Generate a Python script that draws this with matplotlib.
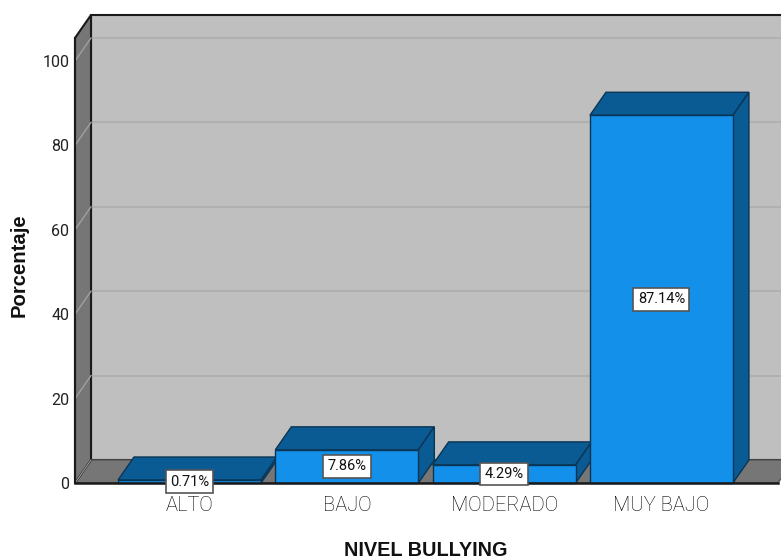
import matplotlib
matplotlib.use("Agg")
import matplotlib.pyplot as plt
from matplotlib.patches import Polygon

categories = ["ALTO", "BAJO", "MODERADO", "MUY BAJO"]
values = [0.71, 7.86, 4.29, 87.14]
labels = ["0.71%", "7.86%", "4.29%", "87.14%"]
yticks = [0, 20, 40, 60, 80, 100]

plt.rcParams['font.family'] = ['Liberation Sans', 'DejaVu Sans']
NARROW = ['Roboto', 'Liberation Sans']
W, H = 781, 560
fig = plt.figure(figsize=(W / 100, H / 100), dpi=100, facecolor='white')
ax = fig.add_axes([75 / W, (H - 483) / H, (778 - 75) / W, (483 - 38) / H])
ax.set_facecolor('none')
xmin, xmax, ymax = -0.728, 3.741, 105.45
ax.set_xlim(xmin, xmax)
ax.set_ylim(0, ymax)
dx, dy = 16 / 157.3, 23 / 4.22
bw = 143 / 157.3

FRONT, DARK, EDGE = '#1290EA', '#0A5A94', '#0B3554'
WALL, SIDE, GRID, FRAME = '#BFBFBF', '#767676', '#ADADAD', '#1A1A1A'

def poly(pts, fc, ec, lw=1.0, z=1):
    ax.add_patch(Polygon(pts, closed=True, facecolor=fc, edgecolor=ec, linewidth=lw,
                         zorder=z, clip_on=False, joinstyle='miter'))

poly([(xmin + dx, dy), (xmax + dx, dy), (xmax + dx, ymax + dy), (xmin + dx, ymax + dy)], WALL, FRAME, 1.5, 1)
poly([(xmin, 0), (xmax, 0), (xmax + dx, dy), (xmin + dx, dy)], SIDE, '#555555', 1.0, 2)
poly([(xmin, 0), (xmin, ymax), (xmin + dx, ymax + dy), (xmin + dx, dy)], SIDE, FRAME, 1.5, 2)

for t in yticks[1:]:
    ax.plot([xmin + dx, xmax + dx], [t + dy, t + dy], color=GRID, lw=1.2, zorder=1.5, clip_on=False)
    ax.plot([xmin, xmin + dx], [t, t + dy], color='#A0A0A0', lw=1.0, zorder=2.5, clip_on=False)
ax.plot([xmin, xmin + dx], [0, dy], color='#A0A0A0', lw=0.8, zorder=2.5, clip_on=False)

xs = list(range(len(categories)))
ax.bar(xs, values, width=bw, color=FRONT, edgecolor=EDGE, linewidth=1.0, zorder=5, clip_on=False)
for x, v in zip(xs, values):
    l, r = x - bw / 2, x + bw / 2
    poly([(l, v), (r, v), (r + dx, v + dy), (l + dx, v + dy)], DARK, EDGE, 1.0, 4)
    poly([(r, 0), (r + dx, dy), (r + dx, v + dy), (r, v)], DARK, EDGE, 1.0, 4)

for x, v, s in zip(xs, values, labels):
    ax.text(x, v / 2, s, ha='center', va='center', family=NARROW,
            fontsize=10.5, color='#111111', zorder=8, clip_on=False,
            bbox=dict(boxstyle='square,pad=0.3', facecolor='white', edgecolor='#555555', linewidth=1.2))

ax.set_xticks(xs)
ax.set_xticklabels(categories, fontsize=14.5, color='#000000', family=NARROW, fontweight='light')
ax.set_yticks(yticks)
ax.set_yticklabels([str(t) for t in yticks], fontsize=11.5, color='#222222', family=NARROW)
ax.tick_params(axis='both', length=0)
ax.tick_params(axis='y', pad=4)
ax.tick_params(axis='x', pad=9.5)
for sp in ['top', 'right']:
    ax.spines[sp].set_visible(False)
ax.spines['left'].set_color(FRAME)
ax.spines['left'].set_linewidth(1.5)
ax.spines['left'].set_zorder(3)
ax.spines['bottom'].set_color(FRAME)
ax.spines['bottom'].set_linewidth(1.8)
ax.spines['bottom'].set_zorder(6)

fig.text(425.5 / W, 1 - 550 / H, "NIVEL BULLYING", ha='center', va='center', fontsize=14.3, fontweight='bold', color='#111111')
fig.text(19 / W, 1 - 265 / H, "Porcentaje", ha='center', va='center', rotation=90, fontsize=14.6, fontweight='bold', color='#111111')

fig.savefig('out.png', dpi=100, facecolor='white')
